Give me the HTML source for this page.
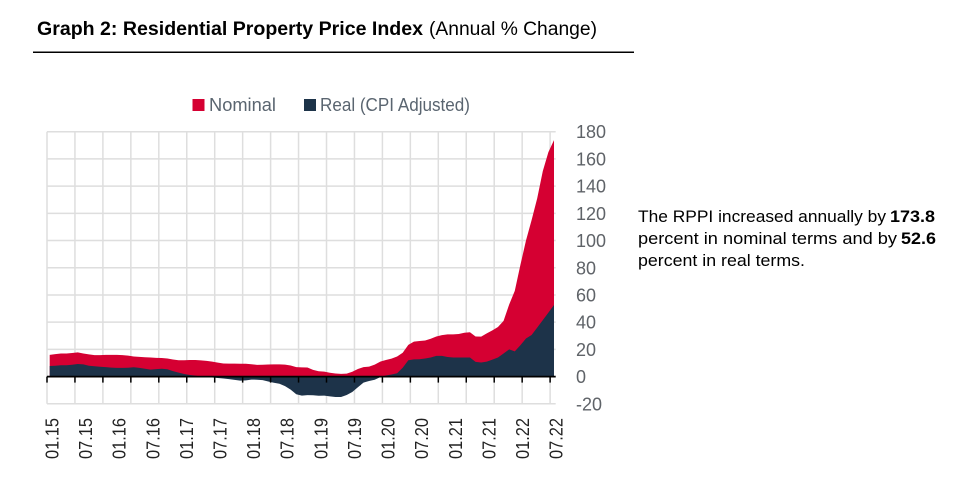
<!DOCTYPE html>
<html lang="en">
<head>
<meta charset="utf-8">
<title>Graph 2: Residential Property Price Index</title>
<style>
  html, body { margin: 0; padding: 0; background: #fff; }
  body { width: 970px; height: 498px; overflow: hidden; }
  svg { display: block; font-family: "Liberation Sans", sans-serif; }
</style>
</head>
<body>
<svg id="chart" width="970" height="498" viewBox="0 0 970 498" xmlns="http://www.w3.org/2000/svg">
  <text y="35" font-size="19" fill="#000">
    <tspan x="37" font-weight="bold" textLength="386" lengthAdjust="spacingAndGlyphs">Graph 2: Residential Property Price Index</tspan>
    <tspan x="429" textLength="168" lengthAdjust="spacingAndGlyphs">(Annual % Change)</tspan>
  </text>
  <rect x="33" y="51.5" width="601" height="1.5" fill="#000"/>

  <rect x="192.5" y="99" width="12" height="12" fill="#d50032"/>
  <text x="209" y="111" font-size="18" fill="#5a6570" textLength="67" lengthAdjust="spacingAndGlyphs">Nominal</text>
  <rect x="304" y="99" width="12" height="12" fill="#1d3349"/>
  <text x="320" y="111" font-size="18" fill="#5a6570" textLength="150" lengthAdjust="spacingAndGlyphs">Real (CPI Adjusted)</text>

  <g id="grid"></g>
  <g id="areas"></g>
  <g id="axis"></g>
  <g id="ylabels"></g>
  <g id="xlabels"></g>

  <g font-size="16.5" fill="#000">
    <text y="222">
      <tspan x="638" textLength="248" lengthAdjust="spacingAndGlyphs">The RPPI increased annually by</tspan>
      <tspan x="890" font-weight="bold" textLength="45" lengthAdjust="spacingAndGlyphs">173.8</tspan>
    </text>
    <text y="244">
      <tspan x="638" textLength="259" lengthAdjust="spacingAndGlyphs">percent in nominal terms and by</tspan>
      <tspan x="901" font-weight="bold" textLength="35" lengthAdjust="spacingAndGlyphs">52.6</tspan>
    </text>
    <text x="638" y="266" textLength="167" lengthAdjust="spacingAndGlyphs">percent in real terms.</text>
  </g>
</svg>
<script>
const nominalValues = [
  16,16.5,17,17,17.3,17.8,17,16.3,15.8,15.8,
  16,16,16,15.8,15.4,14.8,14.5,14.2,14,13.8,
  13.7,13.3,12.6,12,12,12.2,12.2,11.9,11.6,11,
  10.3,9.6,9.5,9.5,9.4,9.4,9.1,8.6,8.7,8.9,
  9,9,8.8,8.2,7,6.8,6.7,4.9,3.9,3.7,
  2.8,2.3,2,2.2,3.6,5.6,7,7.3,8.8,11,
  12.2,13.2,14.8,17.5,23.3,25.7,26.2,26.5,27.8,29.5,
  30.5,31,31,31.3,32.2,32.6,29.5,29.4,31.8,34,
  36.5,41,53,63,82,100,115,131,151,165,173.8
];
const realValues = [
  7.8,8,8.3,8.3,8.7,9.3,9,8,7.6,7.2,
  7,6.6,6.4,6.4,6.5,6.9,6.4,5.8,5.1,5.5,
  5.8,5.4,4,2.9,1.9,1.2,0.7,0,-0.3,-0.7,
  -1,-1.4,-1.9,-2.4,-3,-2.8,-2.2,-2.3,-2.6,-3.6,
  -4.5,-5.3,-7,-9.6,-13,-14,-13.6,-13.7,-14.1,-14,
  -14.5,-15,-15,-13.5,-11.3,-7.8,-4.4,-3.2,-2.3,-0.4,
  0.8,1.5,2.5,6.5,12,12.7,12.8,13.3,14,15.2,
  15.2,14.4,14,14,14,14,10.8,10.4,11,12.5,
  14,17,20,18.5,23,28,30.6,36,41.5,47,52.6
];
const xTickLabels = ["01.15","07.15","01.16","07.16","01.17","07.17","01.18","07.18","01.19","07.19","01.20","07.20","01.21","07.21","01.22","07.22"];
const yTickValues = [180,160,140,120,100,80,60,40,20,0,-20];

const NS = "http://www.w3.org/2000/svg";
const plotLeft = 47, plotRight = 555.7;
const bandCount = nominalValues.length;
const bandWidth = (plotRight - plotLeft) / bandCount;
function xBandEdge(i) { return plotLeft + i * bandWidth; }
function xCenter(i) { return xBandEdge(i) + bandWidth / 2 + (i / (bandCount - 1)) * 1.2 - 0.1; }
function yScale(v) { return 376.6 - v * 1.3605; }

function make(tag, attrs, parent) {
  const el = document.createElementNS(NS, tag);
  for (const k in attrs) el.setAttribute(k, attrs[k]);
  parent.appendChild(el);
  return el;
}
const grid = document.getElementById("grid");
const areas = document.getElementById("areas");
const axis = document.getElementById("axis");
const ylabels = document.getElementById("ylabels");
const xlabels = document.getElementById("xlabels");
const yTop = yScale(yTickValues[0]);
const yBottom = yScale(yTickValues[yTickValues.length - 1]);

yTickValues.forEach(function (v) {
  const line = make("line", {x1: plotLeft, x2: plotRight, y1: yScale(v), y2: yScale(v), stroke: "#dedede", "stroke-width": 1.5}, grid);
  
  
  const t = make("text", {x: 576, y: yScale(v) + 6.5, "font-size": 18, fill: "#5f6368"}, ylabels);
  
  
  t.textContent = v;
});

for (let i = 0; i < bandCount; i += 5) {
  const line = make("line", {x1: xBandEdge(i), x2: xBandEdge(i), y1: yTop, y2: yBottom, stroke: "#dedede", "stroke-width": 1.5}, grid);
  
  
  const tick = make("line", {x1: xBandEdge(i), x2: xBandEdge(i), y1: yScale(0), y2: yScale(0) + 6, stroke: "#000", "stroke-width": 1.5}, axis);
  
  
}

function areaPath(values) {
  let d = "M" + xCenter(0).toFixed(2) + " " + yScale(0).toFixed(2);
  values.forEach(function (v, i) {
    d += "L" + xCenter(i).toFixed(2) + " " + yScale(v).toFixed(2);
  });
  d += "L" + xCenter(values.length - 1).toFixed(2) + " " + yScale(0).toFixed(2) + "Z";
  return d;
}
const nominalArea = make("path", {d: areaPath(nominalValues), fill: "#d50032"}, areas);


const realArea = make("path", {d: areaPath(realValues), fill: "#1d3349"}, areas);



const axisLine = make("line", {x1: plotLeft, x2: plotRight, y1: yScale(0), y2: yScale(0), stroke: "#000", "stroke-width": 1.8}, axis);



xTickLabels.forEach(function (label, k) {
  const cx = xCenter(k * 6) + 2.2;
  const t = make("text", {
    transform: "translate(" + (cx + 6.5).toFixed(2) + " 418) rotate(-90)",
    "text-anchor": "end", "font-size": 18, fill: "#222", textLength: 41, lengthAdjust: "spacingAndGlyphs"
  }, xlabels);
  
  
  t.textContent = label;
});
</script>
</body>
</html>
